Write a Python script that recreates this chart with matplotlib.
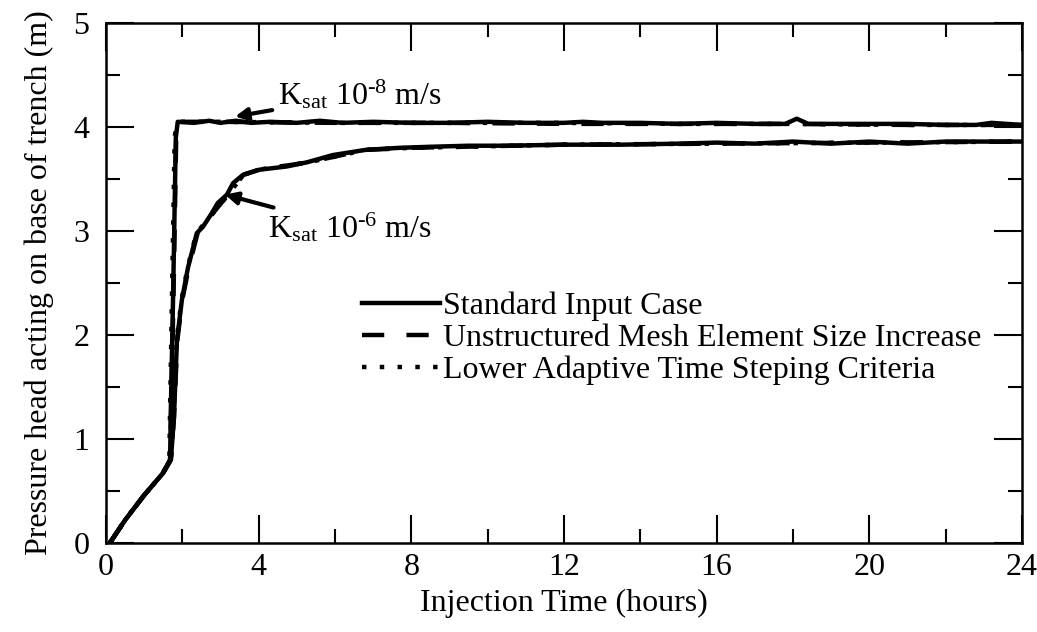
import matplotlib
matplotlib.use('Agg')
import matplotlib.pyplot as plt
from matplotlib.ticker import MultipleLocator

plt.rcParams['font.family'] = ['Liberation Serif', 'DejaVu Serif']
plt.rcParams['mathtext.fontset'] = 'custom'
plt.rcParams['mathtext.rm'] = 'Liberation Serif'
plt.rcParams['mathtext.it'] = 'Liberation Serif:italic'

# Ksat 1e-8 m/s
t_k8_std = [0.1, 0.5, 1.0, 1.49, 1.68, 1.70, 1.76, 1.83, 1.88, 2.3, 2.7, 3.0, 3.4, 3.8, 4.3, 5.0, 5.6, 6.2,
            7.0, 8.0, 9.0, 10.0, 11.0, 12.0, 12.5, 13.0, 14.0, 15.0, 16.0, 17.0, 17.8, 18.1, 18.4, 19.0,
            20.0, 21.0, 22.0, 22.8, 23.2, 24.0]
h_k8_std = [0.0, 0.22, 0.46, 0.67, 0.80, 1.30, 2.40, 3.90, 4.05, 4.04, 4.06, 4.04, 4.06, 4.04, 4.05, 4.04, 4.06, 4.04,
            4.05, 4.04, 4.04, 4.05, 4.04, 4.04, 4.05, 4.04, 4.04, 4.03, 4.04, 4.03, 4.03, 4.08, 4.03, 4.03,
            4.03, 4.03, 4.02, 4.02, 4.04, 4.02]
t_k8_mesh = [0.1, 0.5, 1.0, 1.49, 1.68, 1.71, 1.77, 1.84, 1.89, 3.0, 6.0, 9.0, 12.0, 15.0, 18.0, 21.0, 24.0]
h_k8_mesh = [0.0, 0.22, 0.46, 0.67, 0.80, 1.30, 2.40, 3.90, 4.05, 4.05, 4.04, 4.04, 4.03, 4.03, 4.03, 4.02, 4.02]
t_k8_dt = [0.1, 0.5, 1.0, 1.49, 1.66, 1.68, 1.73, 1.80, 1.86, 3.0, 6.0, 9.0, 12.0, 15.0, 18.0, 21.0, 24.0]
h_k8_dt = [0.0, 0.22, 0.46, 0.67, 0.80, 1.30, 2.40, 3.90, 4.05, 4.05, 4.04, 4.04, 4.04, 4.03, 4.03, 4.02, 4.02]

# Ksat 1e-6 m/s
t_k6_std = [0.1, 0.5, 1.0, 1.49, 1.70, 1.78, 1.86, 1.99, 2.15, 2.38, 2.54, 2.77, 2.93, 3.17, 3.33, 3.59, 4.03,
            4.73, 5.26, 5.94, 6.8, 7.7, 8.5, 9.5, 10.5, 12.0, 13.5, 15.0, 16.0, 17.0, 18.0, 19.0, 20.0,
            21.0, 22.0, 23.0, 24.0]
h_k6_std = [0.0, 0.22, 0.46, 0.67, 0.80, 1.20, 1.95, 2.34, 2.65, 2.98, 3.04, 3.17, 3.27, 3.35, 3.46, 3.54, 3.59,
            3.62, 3.66, 3.73, 3.78, 3.80, 3.81, 3.82, 3.82, 3.83, 3.83, 3.84, 3.85, 3.84, 3.86, 3.84, 3.86,
            3.84, 3.86, 3.86, 3.86]
t_k6_mesh = [0.1, 0.5, 1.0, 1.49, 1.70, 1.78, 1.87, 2.0, 2.17, 2.40, 2.8, 3.2, 3.6, 4.0, 5.3, 6.8, 8.0,
             12.0, 16.0, 20.0, 24.0]
h_k6_mesh = [0.0, 0.22, 0.46, 0.67, 0.80, 1.20, 1.95, 2.34, 2.65, 2.98, 3.17, 3.35, 3.54, 3.59, 3.66, 3.78, 3.80,
             3.83, 3.84, 3.85, 3.86]
t_k6_dt = [0.1, 0.5, 1.0, 1.49, 1.70, 1.77, 1.85, 1.98, 2.14, 2.37, 2.8, 3.2, 3.6, 4.0, 5.3, 6.8, 8.0,
           12.0, 16.0, 20.0, 24.0]
h_k6_dt = [0.0, 0.22, 0.46, 0.67, 0.80, 1.20, 1.95, 2.34, 2.65, 2.98, 3.17, 3.35, 3.54, 3.59, 3.66, 3.78, 3.80,
           3.83, 3.84, 3.85, 3.86]

labels = ['Standard Input Case', 'Unstructured Mesh Element Size Increase',
          'Lower Adaptive Time Steping Criteria']

fs = 23
fig = plt.figure(figsize=(10.37, 6.32), dpi=100)
ax = fig.add_axes([0.1022, 0.1408, 0.8833, 0.8228])

lw = 3.2
ax.plot(t_k8_std, h_k8_std, color='black', lw=lw, ls='-', label=labels[0])
ax.plot(t_k8_mesh, h_k8_mesh, color='black', lw=lw, ls=(0, (5, 5)), label=labels[1])
ax.plot(t_k8_dt, h_k8_dt, color='black', lw=lw, ls=(0, (1, 3)), label=labels[2])
ax.plot(t_k6_std, h_k6_std, color='black', lw=lw, ls='-')
ax.plot(t_k6_mesh, h_k6_mesh, color='black', lw=lw, ls=(0, (5, 5)))
ax.plot(t_k6_dt, h_k6_dt, color='black', lw=lw, ls=(0, (1, 3)))

ax.set_xlim(0, 24)
ax.set_ylim(0, 5)
ax.xaxis.set_major_locator(MultipleLocator(4))
ax.xaxis.set_minor_locator(MultipleLocator(2))
ax.yaxis.set_major_locator(MultipleLocator(1))
ax.yaxis.set_minor_locator(MultipleLocator(0.5))
ax.tick_params(which='both', direction='in', top=True, right=True, labelsize=fs, width=1.5)
ax.tick_params(which='major', length=20)
ax.tick_params(which='minor', length=10)
ax.tick_params(axis='y', pad=12)
ax.tick_params(axis='x', pad=7)
for s in ax.spines.values():
    s.set_linewidth(1.8)

ax.set_xlabel('Injection Time (hours)', fontsize=fs, labelpad=5)
ax.set_ylabel('Pressure head acting on base of trench (m)', fontsize=fs, labelpad=14)

ax.annotate(r'K$_{\mathrm{sat}}$ 10$^{\text{-}8}$ m/s', xy=(3.38, 4.10), xytext=(4.5, 4.31),
            fontsize=fs, va='center',
            arrowprops=dict(arrowstyle='-|>', color='black', lw=3, mutation_scale=18, shrinkA=2, shrinkB=0))
ax.annotate(r'K$_{\mathrm{sat}}$ 10$^{\text{-}6}$ m/s', xy=(3.12, 3.35), xytext=(4.24, 3.03),
            fontsize=fs, va='center',
            arrowprops=dict(arrowstyle='-|>', color='black', lw=3, mutation_scale=18, shrinkA=2, shrinkB=0))

ax.legend(loc='upper left', bbox_to_anchor=(0.2795, 0.483), frameon=False, fontsize=fs,
          handlelength=2.45, handletextpad=0.08, labelspacing=0.08, borderpad=0, borderaxespad=0)

fig.savefig('out.png', dpi=100)
